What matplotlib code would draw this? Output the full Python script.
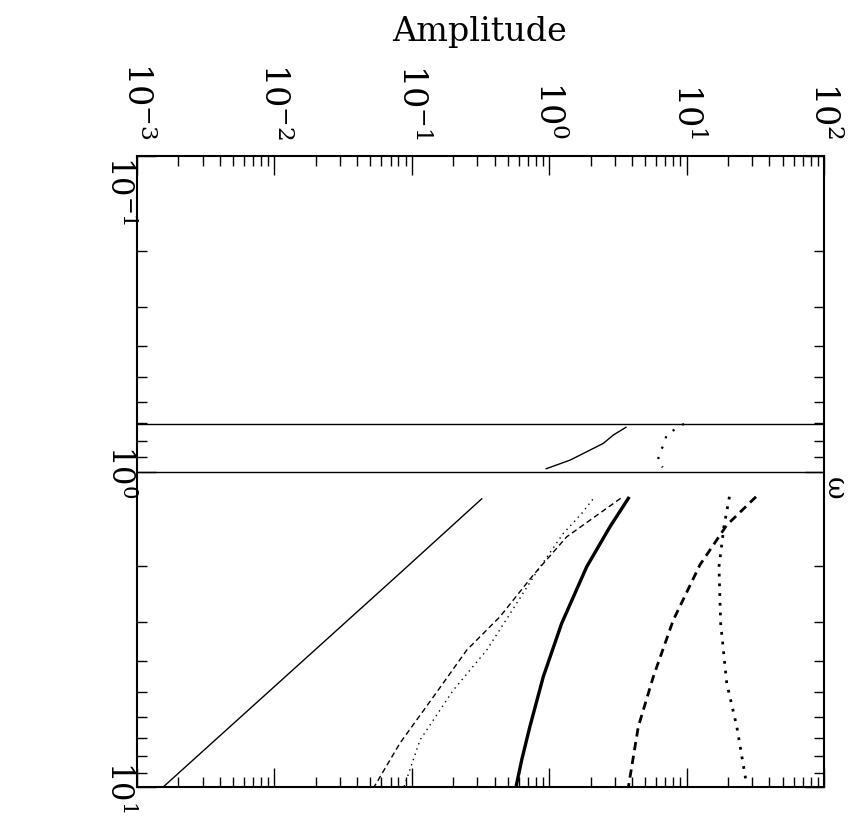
import numpy as np
import matplotlib
matplotlib.use("Agg")
import matplotlib.pyplot as plt

plt.rcParams['font.family'] = ['DejaVu Serif']
plt.rcParams['mathtext.fontset'] = 'dejavuserif'

# band edges (omega)
band_lo = 0.707
band_hi = 1.0

# curves inside the band: omega, amplitude
band_solid_w = [0.98, 0.92, 0.814, 0.766, 0.724]
band_solid_a = [0.95, 1.42, 2.48, 2.93, 3.62]
band_dot_w = [0.706, 0.738, 0.762, 0.818, 0.865, 0.925, 0.97]
band_dot_a = [9.57, 8.11, 7.16, 6.89, 6.40, 6.17, 6.70]

# curves above omega = 1
thin_solid_w = [1.22, 2.10, 10.0]
thin_solid_a = [0.323, 0.082, 0.00155]

thick_solid_w = [1.216, 1.496, 2.004, 3.027, 4.467, 6.427, 8.204, 10.0]
thick_solid_a = [3.77, 2.77, 1.875, 1.233, 0.906, 0.724, 0.631, 0.573]

thick_dash_w = [1.202, 1.479, 1.977, 2.958, 4.467, 6.442, 10.0]
thick_dash_a = [32.0, 19.6, 12.5, 8.0, 5.73, 4.45, 3.77]

thick_dot_w = [1.202, 1.496, 2.004, 3.027, 4.688, 6.442, 9.51]
thick_dot_a = [20.5, 18.7, 17.2, 17.7, 19.6, 23.2, 27.0]

thin_dash_w = [1.216, 1.611, 2.128, 2.884, 3.681, 5.176, 7.261, 10.0]
thin_dash_a = [3.31, 1.34, 0.766, 0.4385, 0.2512, 0.1436, 0.082, 0.0531]

thin_dot_w = [1.225, 1.358, 1.570, 2.080, 3.105, 3.681, 4.932, 7.096, 10.0]
thin_dot_a = [2.075, 1.726, 1.268, 0.811, 0.451, 0.351, 0.2004, 0.1148, 0.0877]

w_ticks = [0.1, 1.0, 10.0]

fig = plt.figure(figsize=(8.5, 8.3), dpi=100)
ax = fig.add_axes([0.1612, 0.0518, 0.8082, 0.7602])

ax.set_xscale('log')
ax.set_yscale('log')
ax.set_xlim(1e-3, 1e2)
ax.set_ylim(10, 0.1)
ax.set_yticks(w_ticks)

ax.axhline(band_lo, color='k', lw=1.0)
ax.axhline(band_hi, color='k', lw=1.0)

ax.plot(band_solid_a, band_solid_w, color='k', lw=1.0)
ax.plot(band_dot_a, band_dot_w, color='k', lw=1.6, ls=(0, (1, 4)))

ax.plot(thin_solid_a, thin_solid_w, color='k', lw=1.0)
ax.plot(thick_solid_a, thick_solid_w, color='k', lw=2.4)
ax.plot(thick_dash_a, thick_dash_w, color='k', lw=2.0, ls=(0, (3, 2)))
ax.plot(thick_dot_a, thick_dot_w, color='k', lw=2.0, ls=(0, (1, 2.5)))
ax.plot(thin_dash_a, thin_dash_w, color='k', lw=1.0, ls=(0, (4, 2.5)))
ax.plot(thin_dot_a, thin_dot_w, color='k', lw=1.0, ls=(0, (1, 3)))

for s in ax.spines.values():
    s.set_linewidth(1.5)

ax.tick_params(which='both', direction='in', top=True, bottom=True,
               left=True, right=True, labeltop=True, labelbottom=False,
               labelleft=True, labelright=False)
ax.tick_params(which='major', length=14, width=1.0)
ax.tick_params(which='minor', length=7, width=1.0)
ax.tick_params(axis='x', labelrotation=-90, labelsize=24, pad=12)
ax.tick_params(axis='y', labelrotation=-90, labelsize=22, pad=1)
ylabs = ax.get_yticklabels()
for lab in ylabs:
    lab.set_va('center')
# top-left label hangs below the corner
ylabs[0].set_va('top')

fig.text(480 / 850, 1 - 32 / 830, 'Amplitude', fontsize=24,
         ha='center', va='center')
fig.text(834 / 850, 1 - 488 / 830, 'ω', fontsize=20, rotation=-90,
         ha='center', va='center')

fig.savefig('out.png', dpi=100)
